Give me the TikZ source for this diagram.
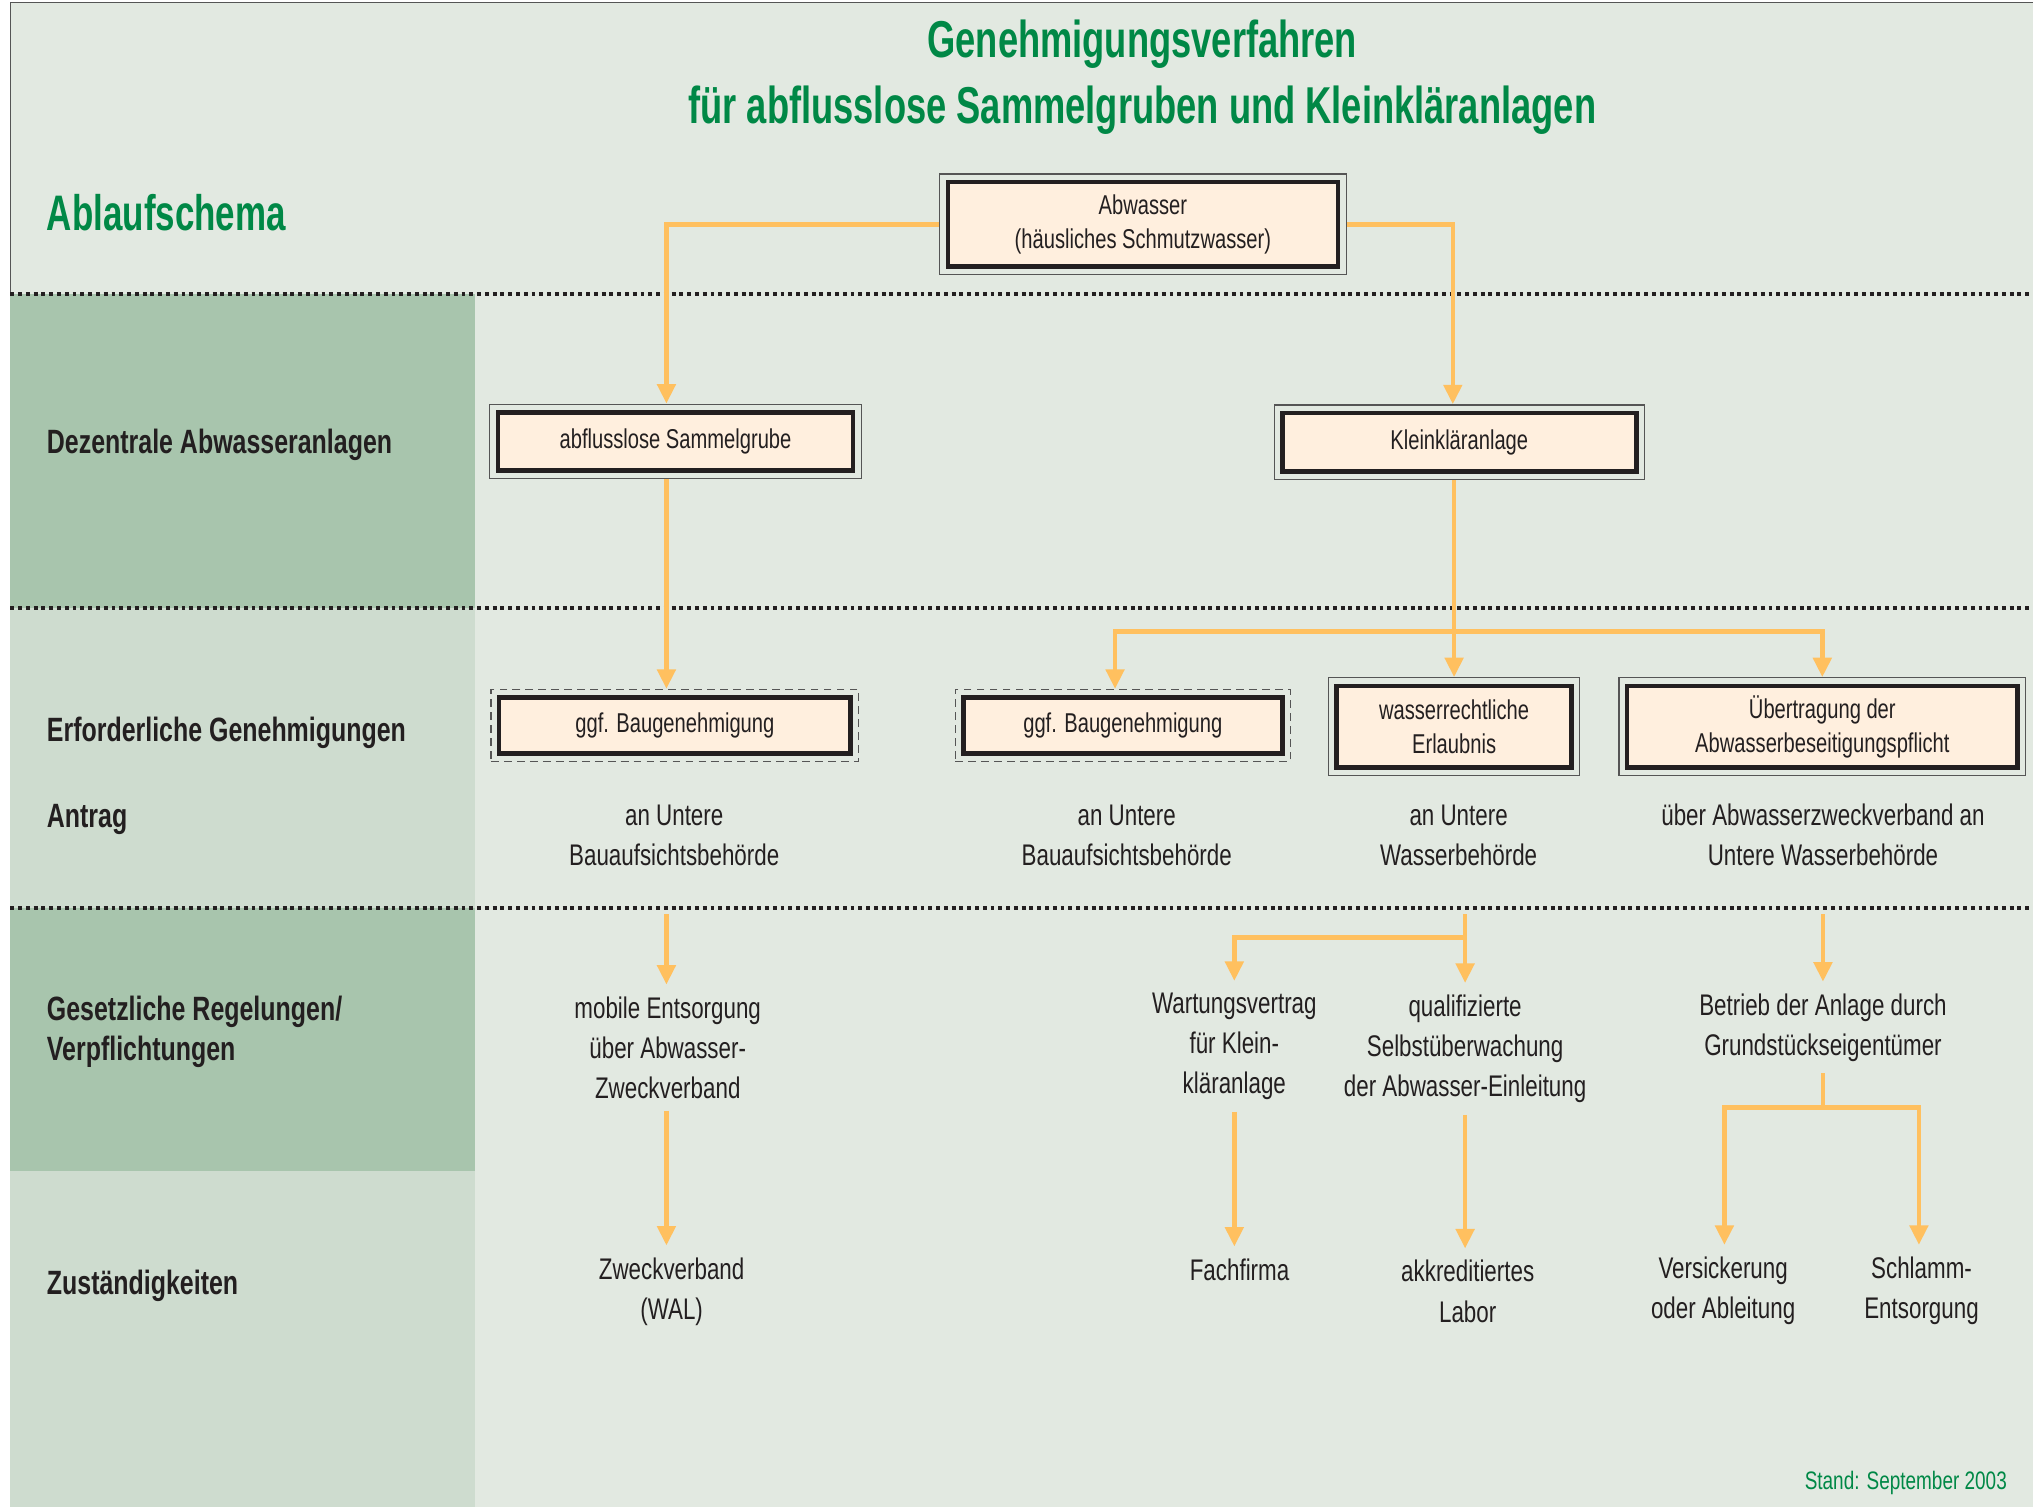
\documentclass[tikz,border=0pt]{standalone}
\usepackage{fontspec}
\setmainfont{Liberation Sans}[FakeStretch=0.75]
\newfontfamily\titlefont{Liberation Sans}[FakeStretch=0.70]
\newfontfamily\boxfont{Liberation Sans}[FakeStretch=0.74]
\usetikzlibrary{arrows.meta,fit,calc}
\definecolor{bgc}{RGB}{226,233,225}
\definecolor{darkg}{RGB}{168,197,173}
\definecolor{medg}{RGB}{206,220,207}
\definecolor{arr}{RGB}{255,192,95}
\definecolor{boxfill}{RGB}{255,239,222}
\definecolor{ink}{RGB}{35,31,32}
\definecolor{framegray}{RGB}{85,85,85}
\definecolor{titlegreen}{RGB}{0,136,70}
\begin{document}
\begin{tikzpicture}[x=1pt,y=-1pt,
  con/.style={draw=arr, line width=3.5pt, -{Triangle[width=14pt,length=15pt]}},
  conl/.style={draw=arr, line width=3.5pt},
  box/.style={draw=ink, line width=3.5pt, fill=boxfill, text=ink, align=center, inner sep=0pt,
    font=\boxfont\fontsize{21pt}{26pt}\selectfont},
  frame/.style={draw=framegray, line width=1pt, inner sep=4.5pt},
  dframe/.style={draw=framegray, line width=1pt, inner sep=4.5pt, dash pattern=on 6pt off 4pt},
  txt/.style={text=ink, align=center, inner xsep=0pt, inner ysep=9pt,
    font=\fontsize{23pt}{31pt}\selectfont},
  lab/.style={text=ink, anchor=west, align=left, inner sep=0pt,
    font=\boxfont\bfseries\fontsize{26pt}{31pt}\selectfont},
  title/.style={text=titlegreen, inner sep=0pt, font=\titlefont\bfseries\fontsize{40pt}{44pt}\selectfont},
  dotline/.style={draw=ink, line width=3pt, dash pattern=on 3pt off 3pt}]

\useasboundingbox (0,0) rectangle (1568,1162);
% backgrounds
\fill[white] (0,0) rectangle (1568,1162);
\fill[bgc] (8,2) rectangle (1568,1162);
\draw[framegray, line width=1.2pt] (8,1162) -- (8,2) -- (1568,2);
\fill[darkg] (8,227) rectangle (366,469);
\fill[medg] (8,469) rectangle (366,700);
\fill[darkg] (8,700) rectangle (366,903);
\fill[medg] (8,903) rectangle (366,1162);
\draw[dotline] (8,227) -- (1568,227);
\draw[dotline] (8,469) -- (1568,469);
\draw[dotline] (8,700) -- (1568,700);

% titles
\node[title] (t1) at (881,34) {Genehmigungsverfahren};
\node[title] (t2) at (881,85) {für abflusslose Sammelgruben und Kleinkläranlagen};
\node[title, anchor=west, font=\titlefont\bfseries\fontsize{38.5pt}{40pt}\selectfont] (abl) at (36,164) {Ablaufschema};
\node[text=titlegreen, anchor=east, inner sep=0pt, font=\fontsize{19.5pt}{20pt}\selectfont] (stand) at (1548,1144) {Stand: September 2003};

% row labels
\node[lab] (l1) at (36,343) {Dezentrale Abwasseranlagen};
\node[lab] (l2) at (36,565) {Erforderliche Genehmigungen};
\node[lab] (l3) at (36,632) {Antrag};
\node[lab] (l4) at (36,796) {Gesetzliche Regelungen/\\Verpflichtungen};
\node[lab] (l5) at (36,992) {Zuständigkeiten};

% boxes
\node[box, minimum width=301pt, minimum height=65pt] (abw) at (881.5,173) {Abwasser\\(häusliches Schmutzwasser)};
\node[frame, fit=(abw)] (abwF) {};
\node[box, minimum width=274pt, minimum height=45pt] (samm) at (521,340.5) {abflusslose Sammelgrube};
\node[frame, fit=(samm)] (sammF) {};
\node[box, minimum width=273pt, minimum height=45pt] (klein) at (1125.5,341) {Kleinkläranlage};
\node[frame, fit=(klein)] (kleinF) {};
\node[box, minimum width=271pt, minimum height=43pt] (bg1) at (520.5,559.5) {ggf. Baugenehmigung};
\node[dframe, fit=(bg1)] (bg1F) {};
\node[box, minimum width=246pt, minimum height=43pt] (bg2) at (866,559.5) {ggf. Baugenehmigung};
\node[dframe, fit=(bg2)] (bg2F) {};
\node[box, minimum width=181pt, minimum height=63pt] (wr) at (1121.5,560.5) {wasserrechtliche\\Erlaubnis};
\node[frame, fit=(wr)] (wrF) {};
\node[box, minimum width=301pt, minimum height=63pt] (ueb) at (1405.5,560.5) {Übertragung der\\Abwasserbeseitigungspflicht};
\node[frame, fit=(ueb)] (uebF) {};

% connectors top
\draw[con] (abwF.west) -| ([xshift=-7pt]sammF.north);
\draw[con] (abwF.east) -| ([xshift=-5pt]kleinF.north);
\draw[con] ([xshift=-7pt]sammF.south) -- ([xshift=-7pt]sammF.south |- bg1F.north);
\draw[con] (wrF.north |- kleinF.south) -- (wrF.north);
\coordinate (j1) at (1122,487);
\draw[con] (j1) -| ([xshift=-6pt]bg2F.north);
\draw[con] (j1) -| (uebF.north);

% Antrag texts
\node[txt] (an1) at (520,644) {an Untere\\Bauaufsichtsbehörde};
\node[txt] (an2) at (869,644) {an Untere\\Bauaufsichtsbehörde};
\node[txt] (an3) at (1125,644) {an Untere\\Wasserbehörde};
\node[txt] (an4) at (1406,644) {über Abwasserzweckverband an\\Untere Wasserbehörde};

% row 3/4 left
\coordinate (s1) at (514,705);
\node[txt] (mob) at (515,808) {mobile Entsorgung\\über Abwasser-\\Zweckverband};
\node[txt] (zw) at (518,996) {Zweckverband\\(WAL)};
\draw[con] (s1) -- (s1 |- mob.north);
\draw[con] (mob.south -| s1) -- (zw.north -| s1);

% middle
\coordinate (s2) at (1130,705);
\coordinate (j2) at (1130,723);
\node[txt] (wart) at (952,807) {Wartungsvertrag\\für Klein-\\kläranlage};
\node[txt] (qual) at (1130,809) {qualifizierte\\Selbstüberwachung\\der Abwasser-Einleitung};
\draw[con] (s2) -- (s2 |- qual.north);
\draw[con] (j2) -| (wart.north);
\node[txt] (fach) at (956,979) {Fachfirma};
\node[txt] (labor) at (1132,996) {akkreditiertes\\Labor};
\draw[con] (wart.south) -- (wart.south |- fach.north);
\draw[con] (qual.south) -- (qual.south |- labor.north);

% right
\coordinate (s3) at (1406,705);
\node[txt] (betr) at (1406,792.5) {Betrieb der Anlage durch\\Grundstückseigentümer};
\draw[con] (s3) -- (betr.north);
\coordinate (j3) at (1406,854);
\node[txt] (vers) at (1329,995.5) {Versickerung\\oder Ableitung};
\node[txt] (schl) at (1482,995.5) {Schlamm-\\Entsorgung};
\draw[conl] (betr.south) -- (j3);
\draw[con] (j3) -| ([xshift=1pt]vers.north);
\draw[con] (j3) -| ([xshift=-2pt]schl.north);
\end{tikzpicture}
\end{document}
